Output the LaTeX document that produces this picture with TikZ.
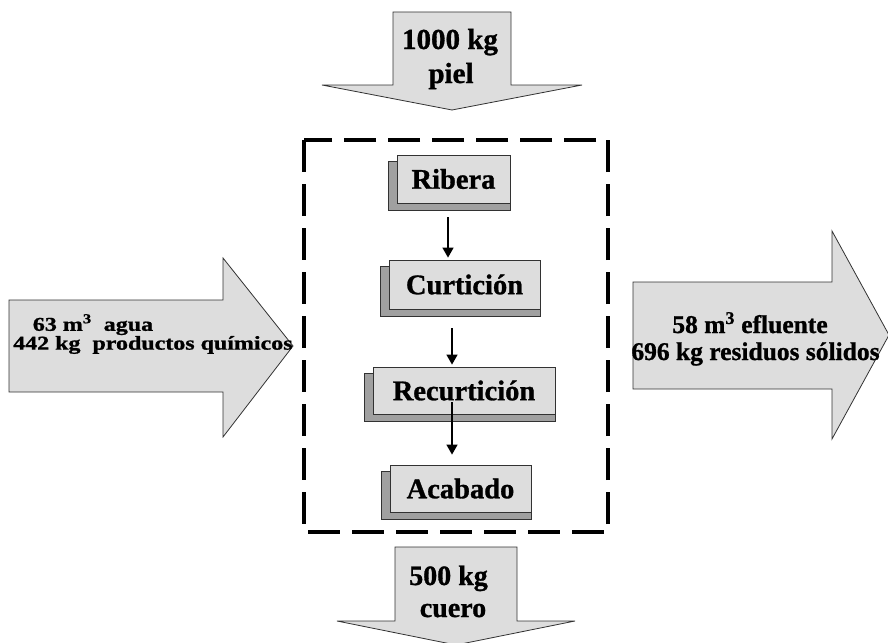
\documentclass[tikz,border=0pt]{standalone}
\usepackage{fontspec}
\setmainfont{Liberation Serif}[BoldFeatures={FakeBold=1}]
\usetikzlibrary{arrows.meta,calc}
\definecolor{panel}{RGB}{221,221,221}
\definecolor{shade}{RGB}{160,160,160}
\definecolor{edge}{RGB}{50,50,50}
\pgfdeclarelayer{back}
\pgfsetlayers{back,main}

\begin{document}
\begin{tikzpicture}[x=1pt,y=-1pt,
  bigarrow/.style={fill=panel, draw=edge, line width=0.8pt, line join=miter},
  procbox/.style={draw=edge, fill=panel, line width=0.8pt, inner sep=0pt,
    font=\fontsize{28.5}{30}\selectfont\bfseries},
  boxshade/.style={draw=edge, fill=shade, line width=0.8pt},
  flow/.style={line width=1.4pt, -{Triangle[length=10pt,width=11pt]}},
  lbl/.style={inner sep=0pt},
]
\useasboundingbox (0,0) rectangle (888,642);

% inflow / outflow arrows
\draw[bigarrow] (393,12) -- (511,12) -- (511,85) -- (582,85) -- (452,110)
  -- (322,85) -- (393,85) -- cycle;
\draw[bigarrow] (395,547) -- (517,547) -- (517,621) -- (575,621) -- (456,645)
  -- (337,621) -- (395,621) -- cycle;
\draw[bigarrow] (9,300) -- (223,300) -- (223,258) -- (293,346) -- (223,437)
  -- (223,392) -- (9,392) -- cycle;
\draw[bigarrow] (633,282) -- (832,282) -- (832,231) -- (889,335) -- (832,439)
  -- (832,389) -- (633,389) -- cycle;

% arrow labels
\node[lbl, anchor=base, font=\fontsize{29}{32}\selectfont\bfseries] (pielA) at (450,49) {1000 kg};
\node[lbl, anchor=base, font=\fontsize{29}{32}\selectfont\bfseries] (pielB) at (451,83) {piel};
\node[lbl, anchor=base, font=\fontsize{28}{31}\selectfont\bfseries] (cueroA) at (448.5,585) {500 kg};
\node[lbl, anchor=base, font=\fontsize{28}{31}\selectfont\bfseries] (cueroB) at (453,617) {cuero};
\node[lbl, anchor=north west, align=left, font=\fontsize{19.5}{14.5}\selectfont\bfseries] (inflow) at (13,314)
  {\scalebox{1.23}[1]{\hspace*{16pt}63 m\textsuperscript{3}\ \ agua}\\
   \scalebox{1.23}[1]{442 kg\ \ productos químicos}};
\node[lbl, anchor=base, font=\fontsize{25.5}{28}\selectfont\bfseries] (outA) at (750,333)
  {58 m\textsuperscript{3} efluente};
\node[lbl, anchor=base, font=\fontsize{25.5}{28}\selectfont\bfseries] (outB) at (755.5,360)
  {696 kg residuos sólidos};

% process boundary
\draw[line width=4pt, dash pattern=on 32pt off 12pt] (304,140) rectangle (608,532);

% process steps
\node[procbox, minimum width=113pt, minimum height=48pt] (rib) at (453.5,179) {Ribera};
\node[procbox, minimum width=151pt, minimum height=49pt] (cur) at (464.5,284.5) {Curtición};
\node[procbox, minimum width=182pt, minimum height=47pt] (rec) at (464,390.5) {Recurtición};
\node[procbox, minimum width=141pt, minimum height=47pt] (aca) at (460.5,488.5) {Acabado};

\begin{pgfonlayer}{back}
  \foreach \n in {rib,cur,rec,aca}
    \draw[boxshade] ($(\n.north west)+(-8,7)$) rectangle ($(\n.south east)+(0,7)$);
\end{pgfonlayer}

% flow between steps
\draw[flow, shorten >=2pt] ($(rib.south)+(-5.5,14)$) coordinate (a1) -- (a1 |- cur.north);
\draw[flow, shorten >=2pt] ($(cur.south)+(-12.5,19)$) coordinate (a2) -- (a2 |- rec.north);
\draw[flow, shorten >=10pt] ($(rec.south)+(-12,-12)$) coordinate (a3) -- (a3 |- aca.north);
\end{tikzpicture}
\end{document}
